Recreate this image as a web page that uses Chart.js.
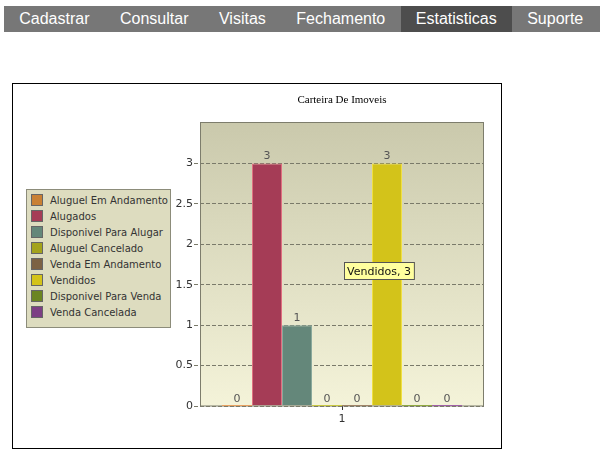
<!DOCTYPE html>
<html><head><meta charset="utf-8">
<script src="https://cdn.jsdelivr.net/npm/chart.js@4/dist/chart.umd.min.js"></script>
<style>
html,body{margin:0;padding:0;background:#fff;width:602px;height:459px;overflow:hidden;position:relative}
#nav{position:absolute;left:4px;top:6px;width:596px;height:26px;background:#777;display:flex;font-family:"Liberation Sans",Arial,sans-serif;font-size:16px;color:#fff}
#nav div{padding:0 15.25px;line-height:26px;height:26px}
#nav div.act{background:#4d4d4d}
#box{position:absolute;left:12px;top:83px;width:488px;height:364px;border:1px solid #000}
#c{position:absolute;left:0;top:0}
#legend{position:absolute;left:26px;top:189px;width:143px;height:137px;background:#dddcbf;border:1px solid #8c8c7a;font-family:"DejaVu Sans",Verdana,sans-serif;font-size:10px;color:#333}
#legend .it{position:absolute;left:4px;height:16px;line-height:16px;white-space:nowrap}
#legend .sw{display:inline-block;width:10px;height:10px;border:1px solid #666;vertical-align:-2px;margin-right:7px}
</style></head><body>
<div id="nav"><div>Cadastrar</div><div>Consultar</div><div>Visitas</div><div>Fechamento</div><div class="act">Estatisticas</div><div>Suporte</div></div>
<div id="box"><canvas id="c" width="488" height="364"></canvas></div>
<div id="legend"></div>
<script>
const categories = ['1'];
const seriesNames = ['Aluguel Em Andamento','Alugados','Disponivel Para Alugar','Aluguel Cancelado','Venda Em Andamento','Vendidos','Disponivel Para Venda','Venda Cancelada'];
const seriesValues = [0, 3, 1, 0, 0, 3, 0, 0];
const seriesColors = ['#c98033','#a53c56','#64877a','#a3a31c','#7c6244','#d3c31a','#6b8521','#7c3f84'];
const seriesBorders = ['#e8a060','#e07080','#8aa99c','#c8c840','#a08468','#f0e040','#90aa40','#a060a8'];
const yTicks = [0, 0.5, 1, 1.5, 2, 2.5, 3];
const chartTitle = 'Carteira De Imoveis';
const tooltipSeries = 5;

// legend
const lg = document.getElementById('legend');
seriesNames.forEach((n,i)=>{
  const d=document.createElement('div');d.className='it';d.style.top=(3+i*16)+'px';
  const s=document.createElement('span');s.className='sw';s.style.background=seriesColors[i];
  d.appendChild(s);d.appendChild(document.createTextNode(n));lg.appendChild(d);
});

const font = '"DejaVu Sans", Verdana, sans-serif';
const bgPlugin = {
  id:'bg',
  beforeDraw(chart){
    const {ctx, chartArea:a} = chart;
    const g = ctx.createLinearGradient(0,a.top,0,a.bottom);
    g.addColorStop(0,'#cac9ac');g.addColorStop(1,'#f4f3d9');
    ctx.save();ctx.fillStyle=g;ctx.fillRect(a.left,a.top,a.right-a.left,a.bottom-a.top);ctx.restore();
    ctx.save();ctx.fillStyle='#000';ctx.font='11px "Liberation Serif", "Times New Roman", serif';
    ctx.textAlign='center';ctx.textBaseline='middle';
    ctx.fillText(chartTitle,(a.left+a.right)/2,16);ctx.restore();
  },
  afterDatasetsDraw(chart){
    const {ctx, chartArea:a} = chart;
    ctx.save();ctx.strokeStyle='#7d7d6c';ctx.lineWidth=1;
    ctx.strokeRect(a.left+0.5,a.top-0.5,a.right-a.left-1,a.bottom-a.top+0.5);
    // zero-height bars appear as a coloured line on the base
    chart.data.datasets.forEach((ds,i)=>{
      const el = chart.getDatasetMeta(i).data[0];
      if (ds.data[0] === 0) {
        ctx.strokeStyle = seriesBorders[i];
        ctx.beginPath();ctx.moveTo(el.x-el.width/2, Math.round(el.base)-0.5);ctx.lineTo(el.x+el.width/2, Math.round(el.base)-0.5);ctx.stroke();
      }
    });
    ctx.font='11px '+font;ctx.fillStyle='#555';ctx.textAlign='center';ctx.textBaseline='middle';
    chart.data.datasets.forEach((ds,i)=>{
      const el = chart.getDatasetMeta(i).data[0];
      ctx.fillText(String(ds.data[0]), el.x, el.y-7);
    });
    // tooltip
    const el = chart.getDatasetMeta(tooltipSeries).data[0];
    const txt = seriesNames[tooltipSeries]+', '+seriesValues[tooltipSeries];
    const w = ctx.measureText(txt).width + 7, h = 18;
    const x = Math.round(el.x - 43), y = Math.round((el.y+el.base)/2 - 22);
    ctx.fillStyle='#ffff9e';ctx.fillRect(x,y,w,h);
    ctx.strokeStyle='#555';ctx.strokeRect(x+0.5,y+0.5,w-1,h-1);
    ctx.fillStyle='#111';ctx.textAlign='left';ctx.fillText(txt,x+3,y+h/2+1);
    ctx.restore();
  }
};

new Chart(document.getElementById('c'), {
  type:'bar',
  data:{labels:categories, datasets: seriesNames.map((n,i)=>({label:n,data:[seriesValues[i]],backgroundColor:seriesColors[i],borderColor:seriesBorders[i],borderWidth:1,categoryPercentage:0.845,barPercentage:1}))},
  options:{
    responsive:false, animation:false, devicePixelRatio:1,
    layout:{padding:{left:0,right:17,top:39,bottom:0}},
    plugins:{legend:{display:false},tooltip:{enabled:false},title:{display:false}},
    scales:{
      x:{offset:true,grid:{offset:false,drawOnChartArea:false,tickLength:4,color:'#333'},border:{display:false},
         ticks:{font:{family:font,size:11},color:'#333',padding:3},
         afterFit(s){s.height=42;}},
      y:{min:0,max:3.5,
         afterBuildTicks(s){s.ticks = yTicks.map(v=>({value:v}));},
         grid:{color:'#7a7a6a',tickLength:6,tickBorderDash:[4,2],tickColor:'#7a7a6a'},
         border:{display:false,dash:[4,2]},
         ticks:{font:{family:font,size:11},color:'#333',padding:1,callback:(v)=>String(v)},
         afterFit(s){s.width=187;}}
    }
  },
  plugins:[bgPlugin]
});
</script>
</body></html>
